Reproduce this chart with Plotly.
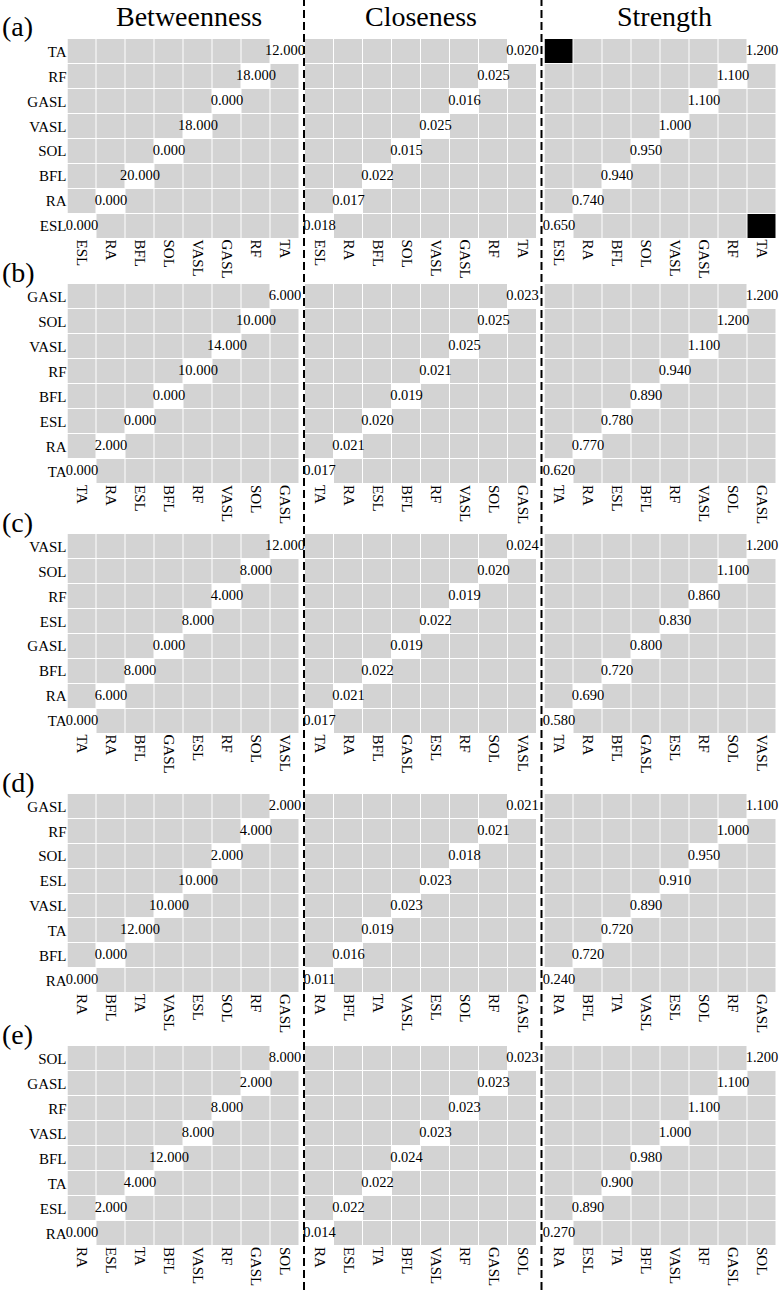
import plotly.graph_objects as go

W, H = 782, 1290
FONT = "Liberation Serif"

# ---------------- data ----------------
metric_names = ["Betweenness", "Closeness", "Strength"]
row_labels = ["(a)", "(b)", "(c)", "(d)", "(e)"]

order_a = ["ESL", "RA", "BFL", "SOL", "VASL", "GASL", "RF", "TA"]
betweenness_a = [0, 0, 20, 0, 18, 0, 18, 12]
closeness_a = [0.018, 0.017, 0.022, 0.015, 0.025, 0.016, 0.025, 0.020]
strength_a = [0.650, 0.740, 0.940, 0.950, 1.000, 1.100, 1.100, 1.200]

order_b = ["TA", "RA", "ESL", "BFL", "RF", "VASL", "SOL", "GASL"]
betweenness_b = [0, 2, 0, 0, 10, 14, 10, 6]
closeness_b = [0.017, 0.021, 0.020, 0.019, 0.021, 0.025, 0.025, 0.023]
strength_b = [0.620, 0.770, 0.780, 0.890, 0.940, 1.100, 1.200, 1.200]

order_c = ["TA", "RA", "BFL", "GASL", "ESL", "RF", "SOL", "VASL"]
betweenness_c = [0, 6, 8, 0, 8, 4, 8, 12]
closeness_c = [0.017, 0.021, 0.022, 0.019, 0.022, 0.019, 0.020, 0.024]
strength_c = [0.580, 0.690, 0.720, 0.800, 0.830, 0.860, 1.100, 1.200]

order_d = ["RA", "BFL", "TA", "VASL", "ESL", "SOL", "RF", "GASL"]
betweenness_d = [0, 0, 12, 10, 10, 2, 4, 2]
closeness_d = [0.011, 0.016, 0.019, 0.023, 0.023, 0.018, 0.021, 0.021]
strength_d = [0.240, 0.720, 0.720, 0.890, 0.910, 0.950, 1.000, 1.100]

order_e = ["RA", "ESL", "TA", "BFL", "VASL", "RF", "GASL", "SOL"]
betweenness_e = [0, 2, 4, 12, 8, 8, 2, 8]
closeness_e = [0.014, 0.022, 0.022, 0.024, 0.023, 0.023, 0.023, 0.023]
strength_e = [0.270, 0.890, 0.900, 0.980, 1.000, 1.100, 1.100, 1.200]

# highlighted (black) cells: (row index, metric index, y category, x category)
black_cells = [(0, 2, "TA", "ESL"), (0, 2, "ESL", "TA")]

orders = [order_a, order_b, order_c, order_d, order_e]
values = [
    [betweenness_a, closeness_a, strength_a],
    [betweenness_b, closeness_b, strength_b],
    [betweenness_c, closeness_c, strength_c],
    [betweenness_d, closeness_d, strength_d],
    [betweenness_e, closeness_e, strength_e],
]

# ---------------- layout geometry (pixels) ----------------
col_px = [(67.5, 299.5), (305.0, 537.0), (544.5, 776.5)]
row_px = [(39, 238.5), (284, 484), (534, 733.5), (794, 993), (1046, 1246)]
dash_x = [304, 541.5]


def xdom(a, b):
    return [a / W, b / W]


def ydom(a, b):
    return [1 - b / H, 1 - a / H]


GRAY = "#d3d3d3"
colorscale = [[0, GRAY], [1 / 3, GRAY], [1 / 3, "white"], [2 / 3, "white"],
              [2 / 3, "black"], [1, "black"]]

fig = go.Figure()
layout_axes = {}

for r in range(5):
    cats = orders[r]
    n = len(cats)
    for c in range(3):
        k = r * 3 + c + 1
        xa = "x" if k == 1 else f"x{k}"
        ya = "y" if k == 1 else f"y{k}"
        z = []
        for i in range(n):
            row = []
            for j in range(n):
                v = 1 if i == j else 0
                for (br, bc, by, bx) in black_cells:
                    if br == r and bc == c and cats[i] == by and cats[j] == bx:
                        v = 2
                row.append(v)
            z.append(row)
        fig.add_trace(go.Heatmap(
            x=cats, y=cats, z=z, xaxis=xa, yaxis=ya,
            colorscale=colorscale, zmin=-0.5, zmax=2.5, showscale=False,
            xgap=1, ygap=1, hoverinfo="skip"))
        vals = values[r][c]
        fig.add_trace(go.Scatter(
            x=cats, y=cats, xaxis=xa, yaxis=ya, mode="text",
            text=[f"{v:.3f}" for v in vals], textposition="middle center",
            textfont=dict(family=FONT, size=14.5, color="black"),
            cliponaxis=False, hoverinfo="skip", showlegend=False))
        xname = "xaxis" if k == 1 else f"xaxis{k}"
        yname = "yaxis" if k == 1 else f"yaxis{k}"
        layout_axes[xname] = dict(
            domain=xdom(*col_px[c]), anchor=ya, type="category",
            categoryorder="array", categoryarray=cats, range=[-0.5, n - 0.5],
            showgrid=False, zeroline=False, showline=False, ticks="",
            tickangle=90, tickfont=dict(family=FONT, size=15, color="black"),
            fixedrange=True)
        layout_axes[yname] = dict(
            domain=ydom(*row_px[r]), anchor=xa, type="category",
            categoryorder="array", categoryarray=cats, range=[-0.5, n - 0.5],
            showgrid=False, zeroline=False, showline=False, ticks="",
            showticklabels=(c == 0),
            tickfont=dict(family=FONT, size=15, color="black"),
            fixedrange=True)

annotations = []
title_cx = [189, 421, 664]
for c, name in enumerate(metric_names):
    annotations.append(dict(
        text=name, x=title_cx[c] / W, y=1 - 17 / H, xref="paper", yref="paper",
        xanchor="center", yanchor="middle", showarrow=False,
        font=dict(family=FONT, size=28, color="black")))
for r, lab in enumerate(row_labels):
    annotations.append(dict(
        text=lab, x=0, y=1 - (row_px[r][0] - 12) / H, xref="paper", yref="paper",
        xanchor="left", yanchor="middle", showarrow=False,
        font=dict(family=FONT, size=28, color="black")))

shapes = []
for dx in dash_x:
    shapes.append(dict(
        type="line", xref="paper", yref="paper", x0=dx / W, x1=dx / W, y0=0, y1=1,
        line=dict(color="black", width=2, dash="8px,4px")))

fig.update_layout(
    width=W, height=H, margin=dict(l=0, r=0, t=0, b=0),
    paper_bgcolor="white", plot_bgcolor="white", showlegend=False,
    annotations=annotations, shapes=shapes, **layout_axes)

fig.write_html("out.html", config={"displayModeBar": False},
               post_script="document.body.style.margin='0';")
